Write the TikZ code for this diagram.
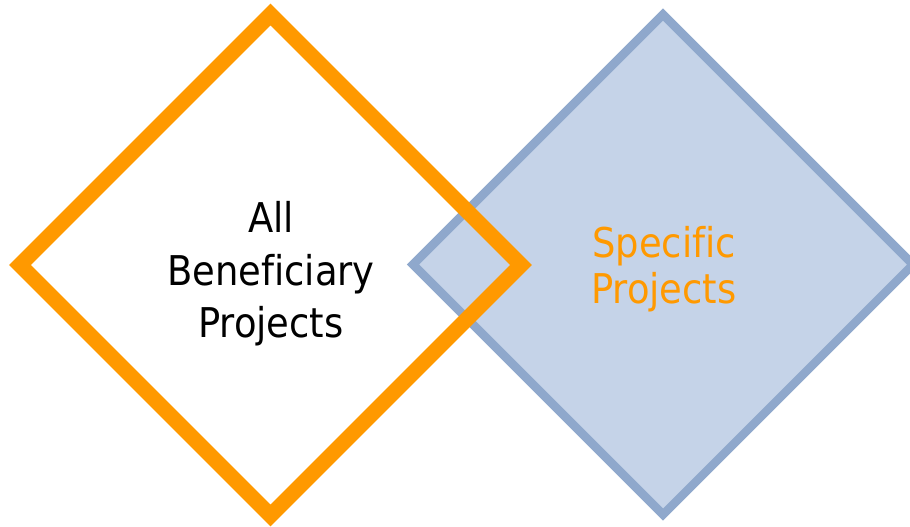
\documentclass[tikz,border=0pt]{standalone}
\usepackage{fontspec}
\newfontfamily\dfont[Ligatures=NoCommon]{DejaVu Sans Condensed}
\definecolor{orangeline}{RGB}{255,153,0}
\definecolor{bluefill}{RGB}{197,211,232}
\definecolor{blueline}{RGB}{143,168,204}
\begin{document}
\begin{tikzpicture}[x=1pt,y=-1pt,
  lbl/.style={anchor=base,inner sep=0pt,font=\dfont\fontsize{41}{50}\selectfont},
  orangediamond/.style={draw=orangeline,line width=15.5pt,line join=miter},
  bluediamond/.style={draw=blueline,fill=bluefill,line width=8.5pt,line join=miter}]
\useasboundingbox (0,0) rectangle (910,527);
\begin{scope}
\clip (0,0) rectangle (910,527);
\draw[bluediamond] (663,14.5) -- (913,264.5) -- (663,514.5) -- (413,264.5) -- cycle;
\draw[orangediamond] (270.5,14.5) -- (521,265) -- (270.5,515.5) -- (20,265) -- cycle;
\end{scope}
\node[lbl] (l1) at (271,232) {All};
\node[lbl] (l2) at (271,285) {Beneficiary};
\node[lbl] (l3) at (271,337) {Projects};
\node[lbl,text=orangeline] (r1) at (664,257) {Specific};
\node[lbl,text=orangeline] (r2) at (664,303) {Projects};
\end{tikzpicture}
\end{document}
